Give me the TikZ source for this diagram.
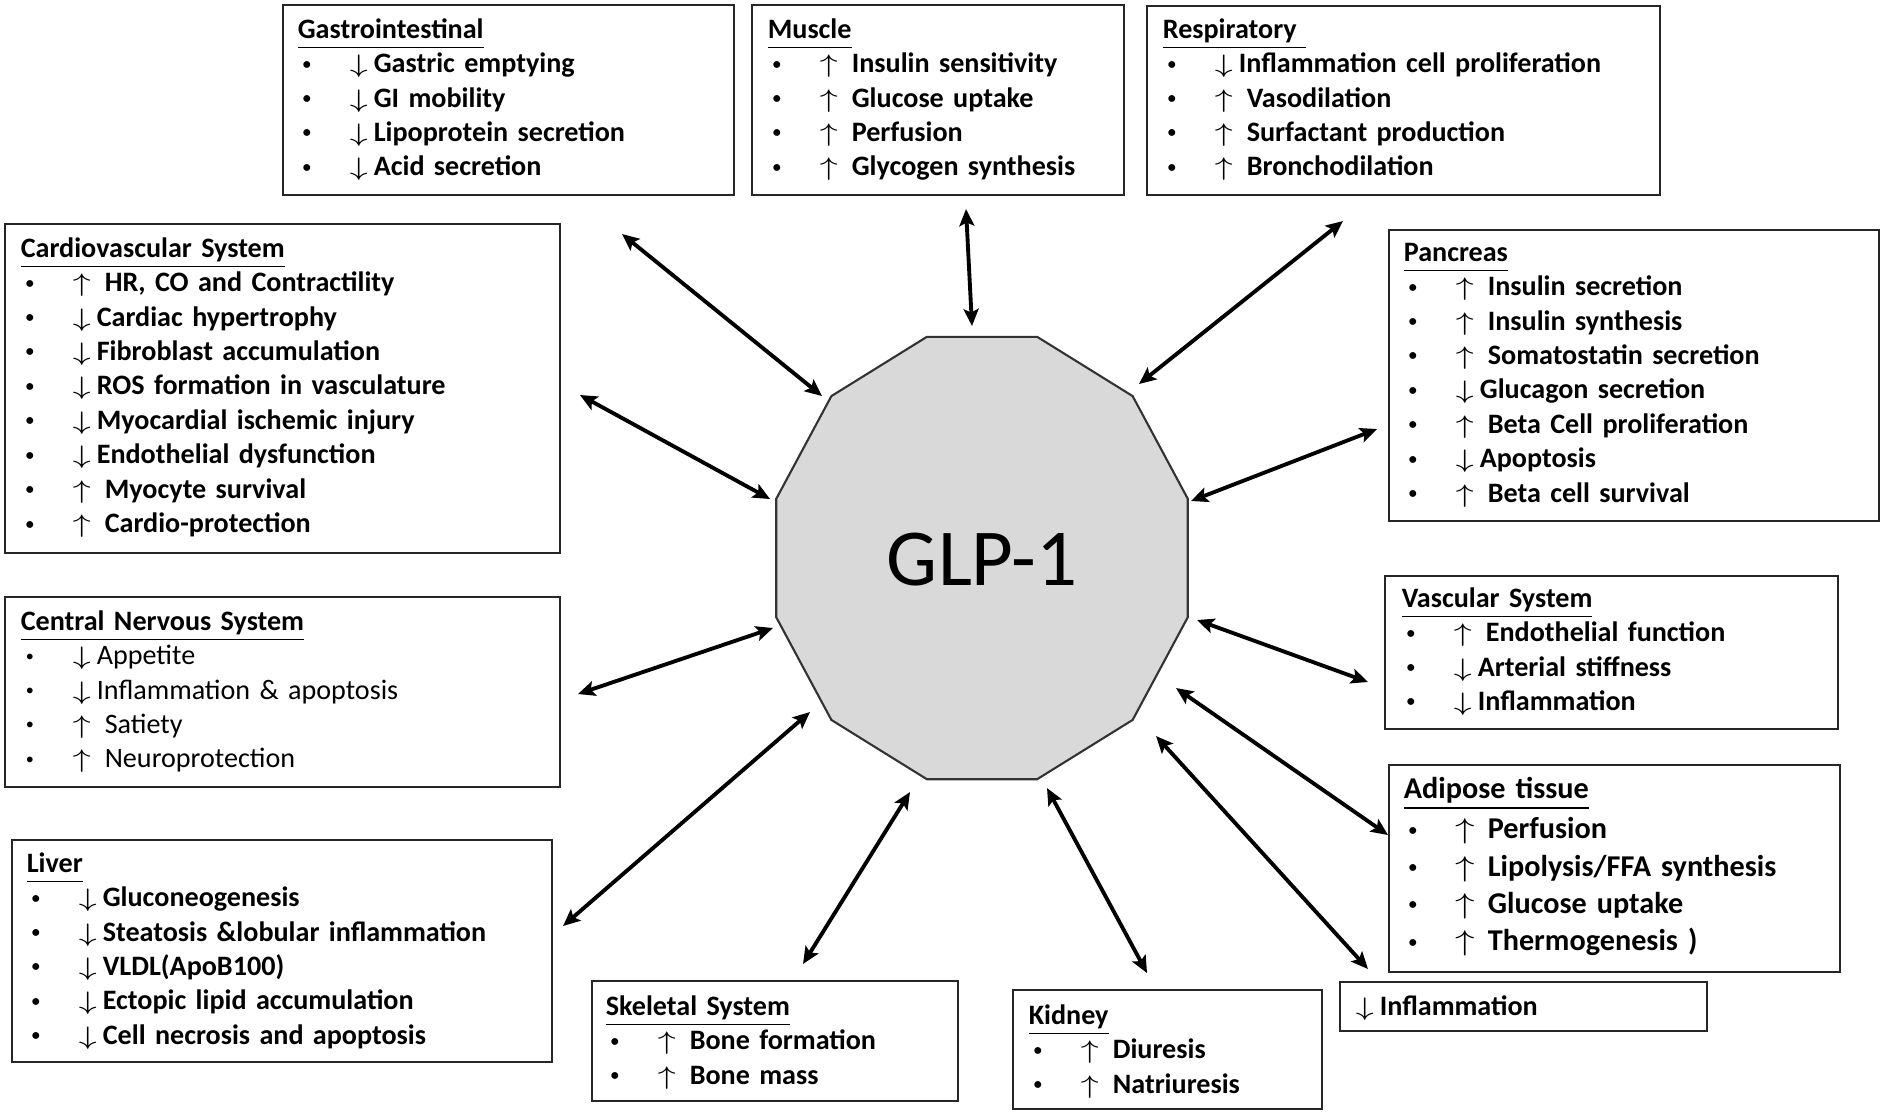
\documentclass[tikz,border=0pt]{standalone}
\usepackage{fontspec}
\usepackage{graphicx}
\setmainfont{Carlito}
\usetikzlibrary
  {
    arrows.meta, % stealth heads
    fit,         % boxes around given corners
    calc,
  }

% bullet lines with up / down arrows
\newcommand{\dotmark}{\makebox[4.7mm][l]{\raisebox{0.35mm}{\fontsize{4.6}{5}\selectfont •}}}
\newcommand{\uparr}{\scalebox{1.2}[0.9]{$\uparrow$}}
\newcommand{\dnarr}{\scalebox{1.2}[0.9]{$\downarrow$}}
\newcommand{\up}[1]{\hspace*{0.5mm}\dotmark\makebox[3.2mm][l]{\uparr}#1}
\newcommand{\dn}[1]{\hspace*{0.5mm}\dotmark\makebox[2.4mm][l]{\dnarr}#1}
% titles with a heavier underline
\newcommand{\heading}[1]{\underline{\smash{#1}\vphantom{y}}}

\begin{document}
\begin{tikzpicture}
    [
      x=0.1mm, y=-0.1mm,
      % Styles
      box/.style={draw=black!85, line width=0.5pt, inner sep=0pt},
      txt/.style={anchor=base west, inner sep=0pt, align=left, text width=6cm,
        font=\fontsize{8}{9.8}\selectfont\bfseries},
      big txt/.style={txt, font=\fontsize{8.6}{10.6}\selectfont\bfseries},
      hub/.style={fill=black!15, draw=black!80, line width=0.6pt},
      link/.style={{Stealth[length=1.7mm,width=1.5mm,inset=0.35mm]}-{Stealth[length=1.7mm,width=1.5mm,inset=0.35mm]},
        line width=1.1pt}
    ]

    \useasboundingbox (0,0) rectangle (1890,1115);

    % GLP-1 in the middle
    \begin{scope}[shift={(982,558)}]
      \draw [hub] (15:213 and 229) \foreach \a in {45,75,...,345} { -- (\a:213 and 229) } -- cycle;
      \node [font=\fontsize{23}{28}\selectfont] (glp) at (0,2) {GLP-1};
    \end{scope}

    % top row
    \node [box, fit={(283,5) (734,195)}] (gi-box) {};
    \node [txt] (gi) at ([shift={(15,34)}]gi-box.north west)
      {\heading{Gastrointestinal}\\ \dn{Gastric emptying}\\ \dn{GI mobility}\\
       \dn{Lipoprotein secretion}\\ \dn{Acid secretion}};

    \node [box, fit={(752,5) (1124,195)}] (mu-box) {};
    \node [txt] (mu) at ([shift={(16,34)}]mu-box.north west)
      {\heading{Muscle}\\ \up{Insulin sensitivity}\\ \up{Glucose uptake}\\
       \up{Perfusion}\\ \up{Glycogen synthesis}};

    \node [box, fit={(1147,6) (1660,195)}] (re-box) {};
    \node [txt] (re) at ([shift={(16,33)}]re-box.north west)
      {\heading{Respiratory\ }\\ \dn{Inflammation cell proliferation}\\ \up{Vasodilation}\\
       \up{Surfactant production}\\ \up{Bronchodilation}};

    % left column
    \node [box, fit={(5,224) (560,553)}] (cv-box) {};
    \node [txt] (cv) at ([shift={(16,34)}]cv-box.north west)
      {\heading{Cardiovascular System}\\ \up{HR, CO and Contractility}\\ \dn{Cardiac hypertrophy}\\
       \dn{Fibroblast accumulation}\\ \dn{ROS formation in vasculature}\\
       \dn{Myocardial ischemic injury}\\ \dn{Endothelial dysfunction}\\
       \up{Myocyte survival}\\ \up{Cardio-protection}};

    \node [box, fit={(5,597) (560,787)}] (cns-box) {};
    \node [txt] (cns) at ([shift={(16,34)}]cns-box.north west)
      {\heading{Central Nervous System}\\ {\mdseries\dn{Appetite}}\\
       {\mdseries\dn{Inflammation \& apoptosis}}\\ {\mdseries\up{Satiety}}\\
       {\mdseries\up{Neuroprotection}}};

    \node [box, fit={(12,840) (552,1062)}] (li-box) {};
    \node [txt] (li) at ([shift={(15,33)}]li-box.north west)
      {\heading{Liver}\\ \dn{Gluconeogenesis}\\ \dn{Steatosis \&lobular inflammation}\\
       \dn{VLDL(ApoB100)}\\ \dn{Ectopic lipid accumulation}\\ \dn{Cell necrosis and apoptosis}};

    % bottom row
    \node [box, fit={(592,981) (958,1101)}] (sk-box) {};
    \node [txt] (sk) at ([shift={(14,35)}]sk-box.north west)
      {\heading{Skeletal System}\\ \up{Bone formation}\\ \up{Bone mass}};

    \node [box, fit={(1013,990) (1322,1109)}] (ki-box) {};
    \node [txt] (ki) at ([shift={(16,35)}]ki-box.north west)
      {\heading{Kidney}\\ \up{Diuresis}\\ \up{Natriuresis}};

    \node [box, fit={(1340,982) (1707,1031)}] (inf-box) {};
    \node [txt] (inf) at ([shift={(16,34)}]inf-box.north west)
      {\makebox[2.4mm][l]{\dnarr}Inflammation};

    % right column
    \node [box, fit={(1389,230) (1879,521)}] (pa-box) {};
    \node [txt] (pa) at ([shift={(15,32)}]pa-box.north west)
      {\heading{Pancreas}\\ \up{Insulin secretion}\\ \up{Insulin synthesis}\\
       \up{Somatostatin secretion}\\ \dn{Glucagon secretion}\\ \up{Beta Cell proliferation}\\
       \dn{Apoptosis}\\ \up{Beta cell survival}};

    \node [box, fit={(1385,576) (1838,729)}] (va-box) {};
    \node [txt] (va) at ([shift={(17,32)}]va-box.north west)
      {\heading{Vascular System}\\ \up{Endothelial function}\\ \dn{Arterial stiffness}\\
       \dn{Inflammation}};

    \node [box, fit={(1389,765) (1840,972)}] (ad-box) {};
    \node [big txt] (ad) at ([shift={(15,34)}]ad-box.north west)
      {\heading{Adipose tissue}\\[1pt] \up{Perfusion}\\ \up{Lipolysis/FFA synthesis}\\
       \up{Glucose uptake}\\ \up{Thermogenesis )}};

    % double arrows, outer end -o, end at GLP-1 -i
    \foreach \n/\ox/\oy/\ix/\iy in
      {gi/622/234/822/396, mu/966/209/972/326, re/1343/221/1139/384,
       cv/580/395/770/499, pa/1377/429/1191/501, cns/578/694/773/628,
       va/1368/682/1197/620, ad/1388/835/1176/688, inf/1368/969/1156/736,
       ki/1147/973/1047/788, sk/803/964/910/792, li/563/926/810/712}
    {
      \coordinate (\n-o) at (\ox,\oy);
      \coordinate (\n-i) at (\ix,\iy);
      \draw [link] (\n-o) -- (\n-i);
    }
\end{tikzpicture}
\end{document}
